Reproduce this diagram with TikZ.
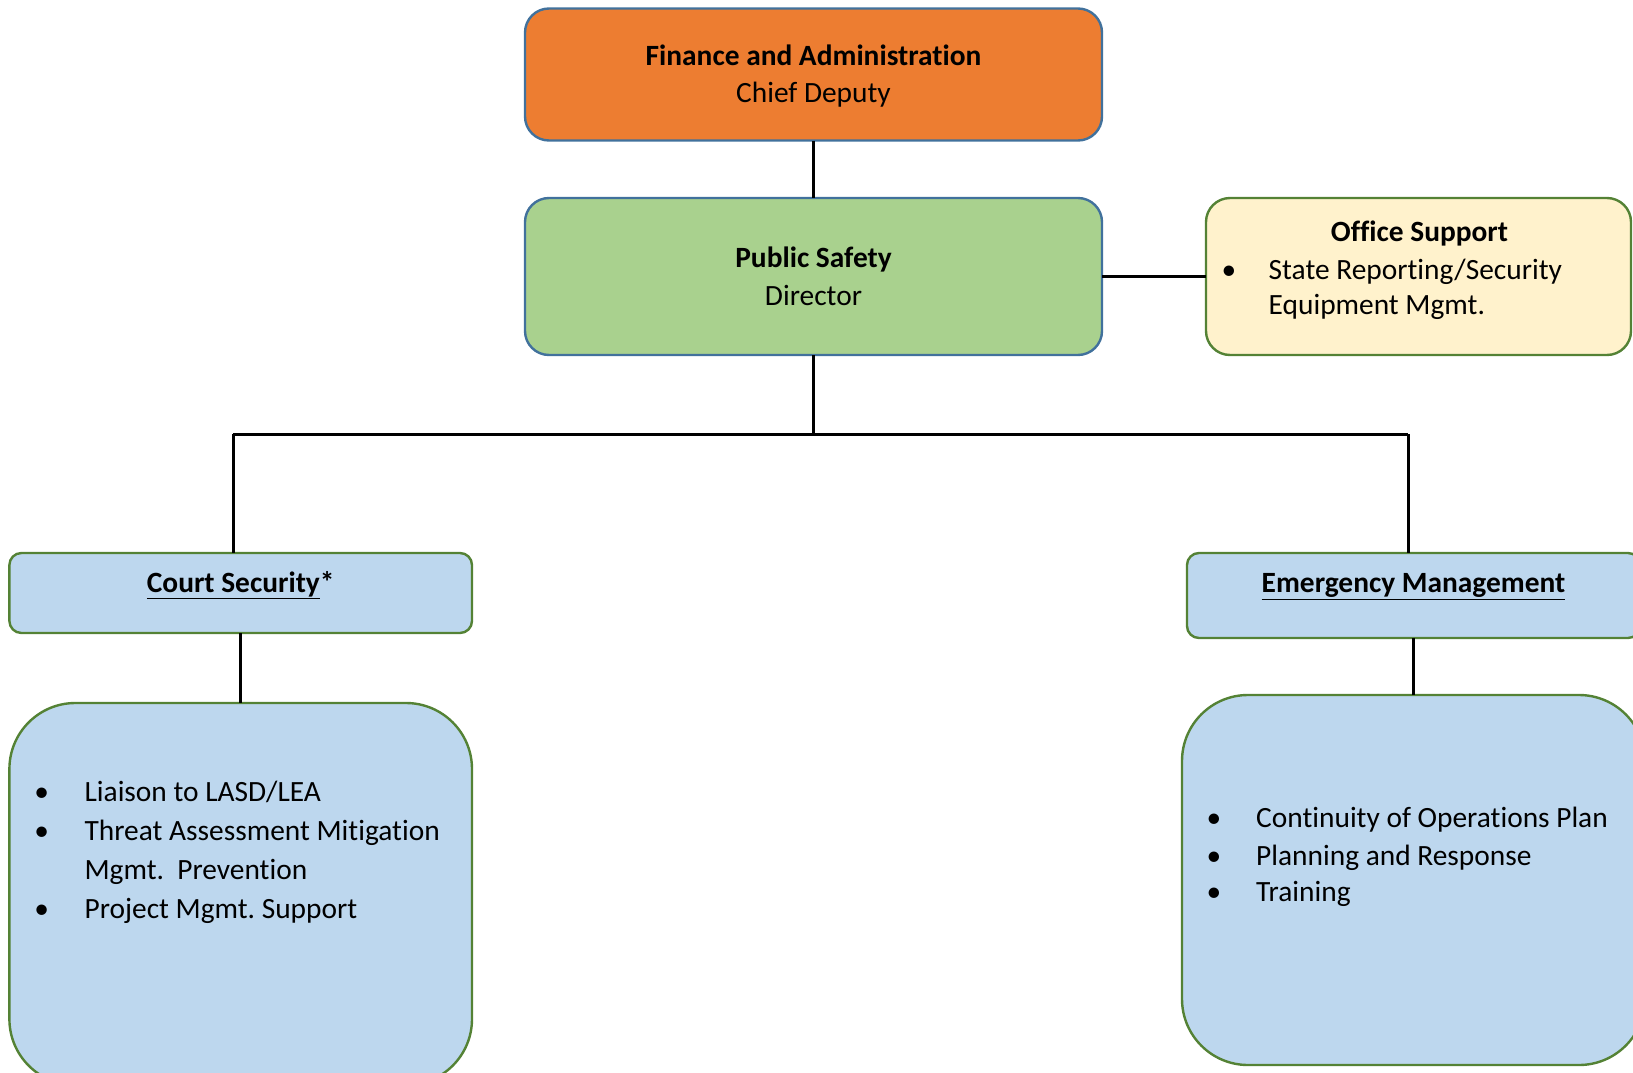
\documentclass[tikz,border=0pt]{standalone}
\usepackage{fontspec}
\setmainfont{Carlito}[Ligatures=NoCommon]
\frenchspacing
\definecolor{orangefill}{HTML}{ED7D31}
\definecolor{greenfill}{HTML}{A9D18E}
\definecolor{yellowfill}{HTML}{FFF2CC}
\definecolor{bluefill}{HTML}{BDD7EE}
\definecolor{blueborder}{HTML}{41719C}
\definecolor{greenborder}{HTML}{548235}
\begin{document}
\begin{tikzpicture}[x=1pt,y=-1pt,
  boxbase/.style={draw, line width=2.4pt, inner sep=0pt, outer sep=0pt},
  topbox/.style={boxbase, draw=blueborder, rounded corners=24pt},
  sidebox/.style={boxbase, draw=greenborder, fill=yellowfill, rounded corners=24pt},
  headbox/.style={boxbase, draw=greenborder, fill=bluefill, rounded corners=12pt},
  listbox/.style={boxbase, draw=greenborder, fill=bluefill, rounded corners=66pt},
  conn/.style={draw=black, line width=3pt},
  txt/.style={anchor=base, inner sep=0pt, font=\fontsize{29.4}{35}\selectfont},
  txtl/.style={txt, anchor=base west},
  bfx/.style={txt, font=\fontsize{29.4}{35}\selectfont\bfseries}
]
\useasboundingbox (0,0) rectangle (1633,1073);
\clip (0,0) rectangle (1633,1073);

% boxes
\node[topbox, fill=orangefill, minimum width=577pt, minimum height=132pt] (fin) at (813.5,74.5) {};
\node[topbox, fill=greenfill, minimum width=577pt, minimum height=157pt] (ps) at (813.5,276.5) {};
\node[sidebox, minimum width=425pt, minimum height=157pt] (off) at (1418.5,276.5) {};
\node[headbox, minimum width=462.6pt, minimum height=80pt] (cs) at (240.7,593) {};
\node[listbox, minimum width=462.6pt, minimum height=382pt] (cslist) at (240.7,894) {};
\node[headbox, minimum width=453pt, minimum height=85pt] (em) at (1413.5,595.5) {};
\node[listbox, minimum width=463pt, minimum height=370pt] (emlist) at (1413.5,880) {};

% connectors
\coordinate (bus) at (813.5,434);
\coordinate (busL) at (233,434);
\coordinate (busR) at (1408,434);
\draw[conn] (fin.south) -- (ps.north);
\draw[conn] (ps.east) -- (off.west);
\draw[conn] (ps.south) -- (bus);
\draw[conn] (busL) -- (busR);
\draw[conn] (busL) -- (busL |- cs.north);
\draw[conn] (busR) -- (busR |- em.north);
\draw[conn] (cs.south) -- (cslist.north);
\draw[conn] (em.south) -- (emlist.north);

% texts
\node[bfx] (fint) at (813.5,66) {Finance and Administration};
\node[txt] (fins) at (813.5,102) {Chief Deputy};
\node[bfx] (pst) at (813.5,267.5) {Public Safety};
\node[txt] (pss) at (813.5,305) {Director};

\node[bfx] (offt) at (1419.5,241.5) {Office Support};
\node[txt] (offb1) at (1229,279.5) {•};
\node[txtl] (off1) at (1268.5,279.5) {State Reporting/Security};
\node[txtl] (off2) at (1268.5,314.5) {Equipment Mgmt.};

\node[bfx] (cst) at (240.7,592) {\underline{Court Security}*};
\node[txt] (csb1) at (41.7,801) {•};
\node[txtl] (cs1) at (84.4,801) {Liaison to LASD/LEA};
\node[txt] (csb2) at (41.7,840) {•};
\node[txtl] (cs2) at (84.4,840) {Threat Assessment Mitigation};
\node[txtl] (cs3) at (84.4,879) {Mgmt.\ \ Prevention};
\node[txt] (csb3) at (41.7,918) {•};
\node[txtl] (cs4) at (84.4,918) {Project Mgmt. Support};

\node[bfx] (emt) at (1413.5,592.5) {\underline{Emergency Management}};
\node[txt] (emb1) at (1214,827) {•};
\node[txtl] (em1) at (1256,827) {Continuity of Operations Plan};
\node[txt] (emb2) at (1214,865) {•};
\node[txtl] (em2) at (1256,865) {Planning and Response};
\node[txt] (emb3) at (1214,901) {•};
\node[txtl] (em3) at (1256,901) {Training};
\end{tikzpicture}
\end{document}
